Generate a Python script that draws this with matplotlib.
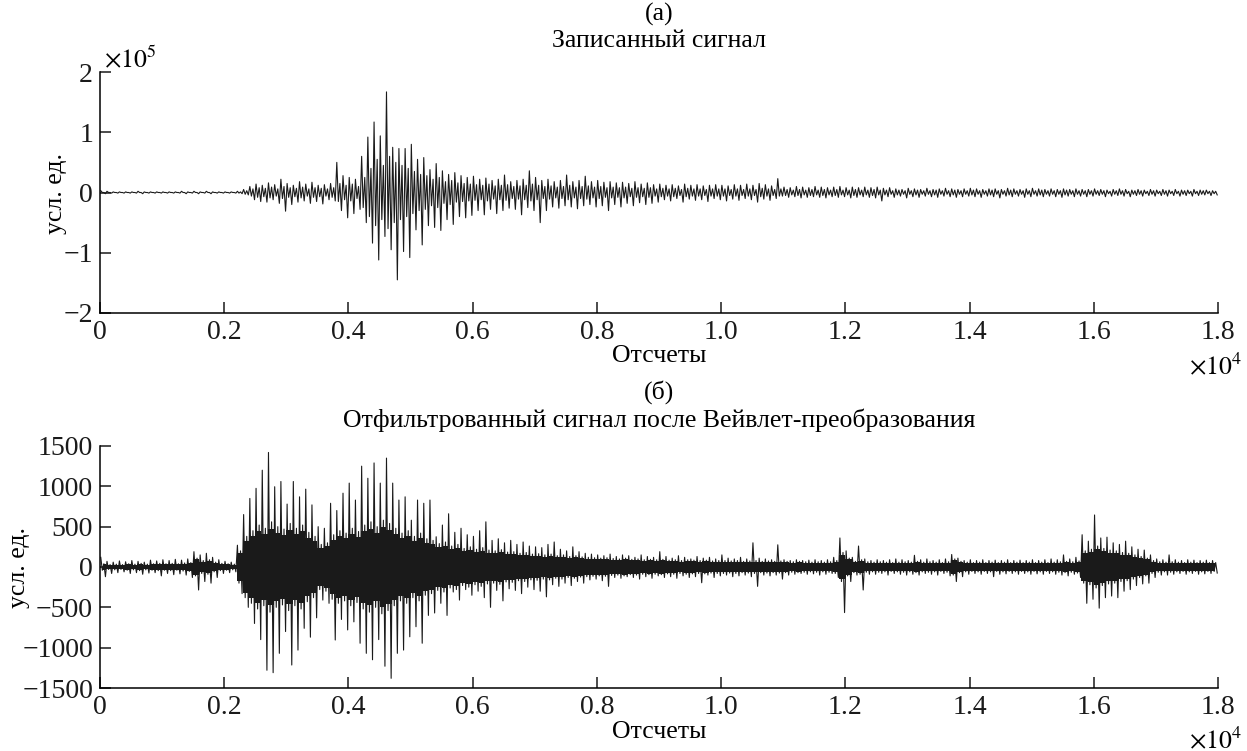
import numpy as np
import matplotlib
matplotlib.use("Agg")
import matplotlib.pyplot as plt

plt.rcParams['font.family'] = ['Liberation Serif', 'DejaVu Serif']
plt.rcParams['mathtext.fontset'] = 'stix'

# ---------------- data ----------------
BIN = 100  # samples per bin
# (a) recorded signal: per-bin maximum / minimum, units of 1e5
top_hi = [0.03, 0.02, 0.01, 0.01, 0.01, 0.01, 0.02, 0.01, 0.01, 0.01,
          0.01, 0.01, 0.01, 0.02, 0.01, 0.02, 0.01, 0.02, 0.01, 0.01,
          0.01, 0.01, 0.02, 0.05, 0.10, 0.14, 0.12, 0.16, 0.13, 0.22,
          0.15, 0.12, 0.18, 0.14, 0.17, 0.12, 0.13, 0.15, 0.50, 0.28,
          0.25, 0.22, 0.60, 0.92, 1.17, 0.94, 1.67, 0.75, 0.73, 0.73,
          0.80, 0.55, 0.58, 0.38, 0.48, 0.36, 0.30, 0.33, 0.28, 0.25,
          0.27, 0.22, 0.24, 0.20, 0.22, 0.29, 0.18, 0.20, 0.22, 0.36,
          0.25, 0.20, 0.22, 0.18, 0.20, 0.29, 0.18, 0.20, 0.27, 0.18,
          0.20, 0.17, 0.18, 0.16, 0.17, 0.15, 0.18, 0.14, 0.16, 0.13,
          0.14, 0.12, 0.13, 0.11, 0.14, 0.12, 0.13, 0.11, 0.12, 0.13,
          0.12, 0.11, 0.13, 0.12, 0.14, 0.12, 0.15, 0.13, 0.11, 0.23,
          0.09, 0.08, 0.10, 0.09, 0.08, 0.10, 0.09, 0.08, 0.09, 0.10,
          0.08, 0.09, 0.08, 0.09, 0.08, 0.09, 0.07, 0.08, 0.06, 0.05,
          0.07, 0.06, 0.05, 0.07, 0.05, 0.06, 0.07, 0.06, 0.05, 0.06,
          0.07, 0.06, 0.05, 0.06, 0.06, 0.05, 0.07, 0.06, 0.05, 0.06,
          0.07, 0.06, 0.05, 0.06, 0.05, 0.06, 0.05, 0.06, 0.05, 0.05,
          0.06, 0.05, 0.04, 0.05, 0.06, 0.05, 0.04, 0.05, 0.04, 0.05,
          0.04, 0.05, 0.04, 0.05, 0.04, 0.04, 0.05, 0.04, 0.04, 0.03]
top_lo = [-0.02, -0.01, -0.01, -0.01, -0.01, -0.01, -0.02, -0.01, -0.01, -0.01,
          -0.01, -0.01, -0.01, -0.02, -0.01, -0.02, -0.01, -0.02, -0.01, -0.01,
          -0.01, -0.01, -0.02, -0.04, -0.12, -0.15, -0.16, -0.12, -0.18, -0.31,
          -0.20, -0.16, -0.14, -0.18, -0.15, -0.19, -0.12, -0.14, -0.30, -0.42,
          -0.35, -0.28, -0.50, -0.84, -1.12, -0.73, -0.95, -1.45, -0.98, -1.08,
          -0.62, -0.87, -0.55, -0.58, -0.63, -0.45, -0.53, -0.40, -0.42, -0.38,
          -0.30, -0.37, -0.28, -0.35, -0.30, -0.26, -0.28, -0.37, -0.25, -0.30,
          -0.50, -0.30, -0.24, -0.26, -0.22, -0.24, -0.27, -0.22, -0.20, -0.24,
          -0.22, -0.30, -0.20, -0.24, -0.18, -0.22, -0.17, -0.20, -0.18, -0.16,
          -0.12, -0.14, -0.10, -0.16, -0.11, -0.13, -0.12, -0.15, -0.10, -0.12,
          -0.14, -0.11, -0.13, -0.10, -0.12, -0.16, -0.11, -0.13, -0.10, -0.06,
          -0.08, -0.07, -0.09, -0.08, -0.07, -0.08, -0.09, -0.07, -0.08, -0.07,
          -0.09, -0.08, -0.07, -0.08, -0.09, -0.14, -0.07, -0.08, -0.06, -0.09,
          -0.07, -0.08, -0.06, -0.07, -0.08, -0.06, -0.07, -0.08, -0.07, -0.06,
          -0.07, -0.08, -0.06, -0.07, -0.09, -0.06, -0.07, -0.06, -0.08, -0.07,
          -0.06, -0.07, -0.06, -0.07, -0.08, -0.06, -0.07, -0.06, -0.07, -0.06,
          -0.05, -0.07, -0.06, -0.05, -0.06, -0.07, -0.05, -0.06, -0.05, -0.06,
          -0.05, -0.06, -0.05, -0.06, -0.05, -0.06, -0.05, -0.04, -0.05, -0.04]
# secondary (smaller) swing inside each bin
top_sub = [0, 0, 0, 0, 0, 0, 0, 0, 0, 0,
           0, 0, 0, 0, 0, 0, 0, 0, 0, 0,
           0, 0, 0.01, 0.03, 0.06, 0.08, 0.07, 0.09, 0.06, 0.10,
           0.08, 0.07, 0.09, 0.06, 0.08, 0.07, 0.06, 0.08, 0.15, 0.12,
           0.14, 0.10, 0.25, 0.40, 0.55, 0.45, 0.60, 0.50, 0.45, 0.40,
           0.35, 0.30, 0.28, 0.22, 0.25, 0.18, 0.20, 0.16, 0.15, 0.14,
           0.13, 0.12, 0.14, 0.11, 0.12, 0.13, 0.10, 0.11, 0.12, 0.14,
           0.12, 0.10, 0.11, 0.09, 0.10, 0.12, 0.09, 0.10, 0.11, 0.09,
           0.10, 0.08, 0.09, 0.08, 0.09, 0.07, 0.08, 0.07, 0.08, 0.06,
           0.07, 0.06, 0.07, 0.05, 0.07, 0.06, 0.06, 0.05, 0.06, 0.06,
           0.06, 0.05, 0.06, 0.05, 0.06, 0.05, 0.07, 0.06, 0.05, 0.06,
           0.05, 0.04, 0.05, 0.04, 0.05, 0.04, 0.05, 0.04, 0.05, 0.04,
           0.04, 0.05, 0.04, 0.04, 0.05, 0.04, 0.04, 0.03, 0.04, 0.03,
           0.03, 0.04, 0.03, 0.03, 0.04, 0.03, 0.03, 0.04, 0.03, 0.03,
           0.04, 0.03, 0.03, 0.04, 0.03, 0.03, 0.04, 0.03, 0.03, 0.03,
           0.03, 0.04, 0.03, 0.03, 0.03, 0.04, 0.03, 0.03, 0.03, 0.03,
           0.03, 0.03, 0.02, 0.03, 0.03, 0.02, 0.03, 0.03, 0.02, 0.03,
           0.02, 0.03, 0.02, 0.02, 0.03, 0.02, 0.02, 0.03, 0.02, 0.02]

# (б) filtered signal: per-bin spike maximum / minimum and dense-band half-width
bot_hi = [120, 70, 60, 75, 65, 80, 70, 60, 85, 75,
          90, 80, 95, 85, 100, 190, 150, 170, 120, 90,
          70, 60, 270, 650, 850, 975, 1200, 1420, 995, 1060,
          780, 1060, 870, 965, 770, 500, 480, 790, 700, 915,
          1040, 830, 1250, 1100, 1290, 1040, 1350, 1040, 830, 870,
          580, 830, 790, 830, 375, 520, 660, 430, 480, 400,
          380, 450, 560, 330, 350, 300, 330, 280, 310, 260,
          250, 240, 280, 310, 220, 200, 250, 190, 170, 160,
          150, 140, 160, 130, 150, 140, 120, 150, 130, 120,
          190, 130, 110, 140, 120, 100, 130, 110, 120, 100,
          150, 110, 100, 120, 100, 300, 110, 100, 90, 275,
          90, 80, 90, 80, 85, 90, 80, 90, 120, 360,
          200, 120, 260, 100, 80, 90, 80, 90, 100, 90,
          80, 145, 90, 100, 80, 90, 100, 155, 110, 80,
          90, 80, 90, 80, 85, 80, 90, 80, 85, 80,
          90, 80, 90, 100, 90, 150, 100, 120, 400, 320,
          645, 360, 370, 300, 280, 320, 250, 220, 210, 150,
          100, 90, 150, 90, 80, 90, 85, 80, 85, 80]
bot_lo = [-120, -80, -70, -60, -80, -70, -90, -75, -70, -110,
          -80, -95, -85, -100, -130, -285, -180, -200, -130, -80,
          -70, -60, -330, -500, -700, -900, -1280, -1310, -1070, -800,
          -1215, -1030, -760, -870, -630, -410, -450, -905, -650, -780,
          -680, -945, -1070, -1150, -900, -1230, -1380, -1070, -1030, -865,
          -740, -945, -600, -570, -450, -600, -310, -410, -280, -350,
          -300, -380, -500, -290, -420, -270, -290, -330, -250, -280,
          -300, -370, -220, -240, -200, -230, -180, -200, -160, -150,
          -170, -240, -130, -140, -120, -130, -150, -120, -140, -110,
          -130, -120, -140, -110, -130, -120, -195, -100, -130, -110,
          -100, -120, -110, -100, -120, -240, -100, -110, -100, -150,
          -100, -90, -80, -90, -85, -100, -90, -80, -130, -565,
          -180, -100, -285, -90, -90, -80, -100, -80, -90, -100,
          -90, -100, -80, -90, -100, -80, -110, -180, -120, -90,
          -80, -90, -80, -120, -90, -85, -80, -90, -80, -90,
          -85, -90, -80, -90, -100, -110, -90, -130, -450, -400,
          -510, -380, -360, -380, -300, -280, -230, -210, -200, -130,
          -100, -100, -90, -80, -90, -80, -90, -85, -80, -75]
bot_core = [40, 30, 35, 30, 40, 35, 45, 35, 40, 45,
            40, 45, 40, 50, 55, 110, 80, 90, 60, 45,
            40, 35, 200, 380, 450, 520, 480, 560, 500, 470,
            540, 480, 520, 430, 380, 280, 300, 400, 450, 420,
            480, 440, 520, 560, 500, 580, 540, 480, 420, 450,
            380, 420, 350, 330, 290, 310, 260, 280, 230, 250,
            220, 240, 210, 200, 215, 185, 190, 170, 180, 160,
            165, 150, 160, 140, 150, 130, 140, 125, 120, 115,
            110, 115, 105, 100, 110, 95, 100, 90, 95, 90,
            95, 85, 90, 80, 90, 85, 80, 85, 75, 80,
            80, 75, 80, 70, 75, 80, 70, 75, 70, 75,
            70, 65, 70, 65, 60, 65, 60, 65, 80, 180,
            110, 70, 90, 65, 60, 65, 60, 55, 60, 65,
            60, 70, 60, 65, 60, 55, 65, 100, 70, 60,
            55, 60, 55, 60, 55, 60, 55, 60, 55, 60,
            55, 60, 55, 60, 65, 70, 65, 75, 200, 220,
            260, 230, 210, 200, 180, 170, 150, 130, 110, 80,
            65, 60, 65, 60, 55, 60, 55, 60, 55, 55]

xtick_vals = [0, 2000, 4000, 6000, 8000, 10000, 12000, 14000, 16000, 18000]
xtick_labels = ['0', '0.2', '0.4', '0.6', '0.8', '1.0', '1.2', '1.4', '1.6', '1.8']
top_yticks = [-2, -1, 0, 1, 2]
bot_yticks = [-1500, -1000, -500, 0, 500, 1000, 1500]

title_a = 'Записанный сигнал'
title_b = 'Отфильтрованный сигнал после Вейвлет-преобразования'
xlabel = 'Отсчеты'
ylabel = 'усл. ед.'


def zigzag(columns, binsize):
    """Interleave per-bin values: each bin gets its values in order, evenly spaced."""
    n = min(len(c) for c in columns)
    k = len(columns)
    idx = np.arange(n) * binsize
    x = np.empty(k * n)
    y = np.empty(k * n)
    for j, c in enumerate(columns):
        x[j::k] = idx + (j + 0.5) / k * binsize
        y[j::k] = np.asarray(c[:n], dtype=float)
    return x, y


W, H = 1247, 751
fig = plt.figure(figsize=(W / 100, H / 100), dpi=100)
ax1 = fig.add_axes([100 / W, 1 - 313 / H, 1118 / W, 241 / H])
ax2 = fig.add_axes([100 / W, 1 - 688 / H, 1118 / W, 242 / H])

FS_T = 18.5
FS_K = 20
col = '#1a1a1a'

sub = np.array(top_sub, dtype=float)
x1, y1 = zigzag([top_hi, -sub, sub, top_lo], BIN)
ax1.plot(x1, y1, color=col, lw=0.8)
ax1.set_ylim(-2, 2)
ax1.set_yticks(top_yticks)
ax1.set_yticklabels(['\u22122', '\u22121', '0', '1', '2'])

core = np.array(bot_core, dtype=float)
x2, y2 = zigzag([bot_hi, -core, core, bot_lo], BIN)
xc = np.arange(len(core)) * BIN + BIN / 2
ax2.fill_between(xc, -0.85 * core, 0.85 * core, step='mid', color=col, lw=0)
ax2.plot(x2, y2, color=col, lw=0.8)
ax2.set_ylim(-1500, 1500)
ax2.set_yticks(bot_yticks)
ax2.set_yticklabels(['\u22121500', '\u22121000', '\u2212500', '0', '500', '1000', '1500'])

for ax in (ax1, ax2):
    ax.set_xlim(0, 18000)
    ax.set_xticks(xtick_vals)
    ax.set_xticklabels(xtick_labels)
    for s in ('top', 'right'):
        ax.spines[s].set_visible(False)
    ax.spines['left'].set_linewidth(1.1)
    ax.spines['bottom'].set_linewidth(1.1)
    ax.tick_params(direction='in', length=8, width=1.1, labelsize=FS_K, pad=5,
                   top=False, right=False, colors='#1a1a1a')

# texts
fig.text(659 / W, 1 - 14 / H, '(а)', ha='center', va='center', fontsize=FS_T)
fig.text(659 / W, 1 - 41 / H, title_a, ha='center', va='center', fontsize=FS_T)
fig.text(659 / W, 1 - 392 / H, '(б)', ha='center', va='center', fontsize=FS_T)
fig.text(659 / W, 1 - 420 / H, title_b, ha='center', va='center', fontsize=FS_T)
fig.text(659 / W, 1 - 356 / H, xlabel, ha='center', va='center', fontsize=FS_T)
fig.text(659 / W, 1 - 732 / H, xlabel, ha='center', va='center', fontsize=FS_T)
fig.text(56 / W, 1 - 193 / H, ylabel, ha='center', va='center', fontsize=FS_T, rotation=90)
fig.text(19 / W, 1 - 567 / H, ylabel, ha='center', va='center', fontsize=FS_T, rotation=90)
fig.text(104 / W, 1 - 59 / H, r'$\times10^5$', ha='left', va='center', fontsize=FS_T)
fig.text(1 - 0.004, 1 - 366 / H, r'$\times10^4$', ha='right', va='center', fontsize=FS_T)
fig.text(1 - 0.004, 1 - 740 / H, r'$\times10^4$', ha='right', va='center', fontsize=FS_T)

fig.savefig('out.png', dpi=100)
